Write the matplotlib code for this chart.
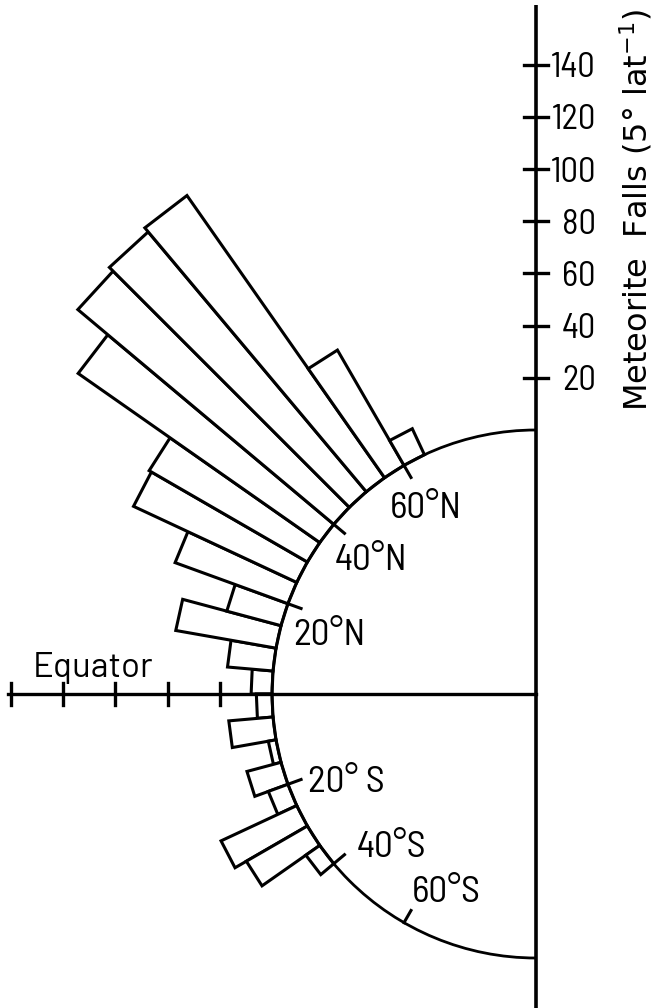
import numpy as np
import matplotlib
matplotlib.use("Agg")
import matplotlib.pyplot as plt
from matplotlib.patches import Polygon, Arc

# ---------------- data ----------------
lat_edges_north = [0, 5, 10, 15, 20, 25, 30, 35, 40, 45, 50, 55, 60]
falls_north = [8, 17.5, 39, 21.5, 46, 69, 70, 113, 128, 130, 132, 51, 11]
lat_edges_south = [0, 5, 10, 15, 20, 25, 30, 35]
falls_south = [6, 17, 3, 13.5, 8, 32, 27, 6.5]
scale_ticks = [20, 40, 60, 80, 100, 120, 140]
equator_ticks = [20, 40, 60, 80, 100]
lat_marks_north = [20, 40, 60]
lat_labels_north = ["20°N", "40°N", "60°N"]
lat_marks_south = [20, 40, 60]
lat_labels_south = ["20° S", "40°S", "60°S"]
axis_label = "Meteorite  Falls (5° lat$^{-1}$)"
equator_label = "Equator"

# ---------------- layout ----------------
W, H = 657, 1008
CX, CY = 536, 694          # centre of the semicircle (pixels, from top-left)
K = 2.61                   # pixels per meteorite fall
R = 264 / K                # radius of the globe in count units
BIN = 5

FONT = ["Barlow Semi Condensed", "DejaVu Sans"]
plt.rcParams["font.family"] = FONT
plt.rcParams["mathtext.fontset"] = "dejavusans"
plt.rcParams["mathtext.default"] = "regular"


def P(x, y):
    """pixel position -> data coordinates"""
    return (x - CX) / K, (CY - y) / K


fig = plt.figure(figsize=(W / 100, H / 100), dpi=100)
ax = fig.add_axes([0, 0, 1, 1])
ax.set_xlim(-CX / K, (W - CX) / K)
ax.set_ylim(-(H - CY) / K, CY / K)
ax.axis("off")

LW = 2.2


def polar(r, lat):
    t = np.deg2rad(180 - lat)
    return r * np.cos(t), r * np.sin(t)


def draw_bar(lat0, lat1, v):
    pts = [polar(R, lat0), polar(R + v, lat0), polar(R + v, lat1), polar(R, lat1)]
    ax.add_patch(Polygon(pts, closed=True, fill=True, facecolor="white",
                         edgecolor="black", lw=LW, joinstyle="miter", zorder=3))


for lo, v in zip(lat_edges_north, falls_north):
    draw_bar(lo, lo + BIN, v)
for lo, v in zip(lat_edges_south, falls_south):
    draw_bar(-lo, -(lo + BIN), v)

# globe outline
ax.add_patch(Arc((0, 0), 2 * R, 2 * R, theta1=90, theta2=270,
                 color="black", lw=2.0, zorder=4))

# vertical scale axis
y_top = P(0, 5)[1]
y_bot = ax.get_ylim()[0]
ax.plot([0, 0], [y_bot, y_top], color="black", lw=2.6, zorder=5,
        solid_capstyle="butt")
tick_half = 12 / K
for v in scale_ticks:
    ax.plot([-tick_half, tick_half], [R + v, R + v], color="black",
            lw=2.4, zorder=5)
    ax.text(P(596, 0)[0], R + v - 12.5 / K, str(v), ha="right",
            va="baseline", fontsize=25, color="black")

# equator axis
x_left = P(8, 0)[0]
ax.plot([x_left, 0], [0, 0], color="black", lw=2.4, zorder=5)
for v in equator_ticks:
    ax.plot([-(R + v), -(R + v)], [-11 / K, 11 / K], color="black",
            lw=2.4, zorder=5)

# latitude marks on the globe
for lat in lat_marks_north:
    a, b = polar(R, lat), polar(R - 14 / K, lat)
    ax.plot([a[0], b[0]], [a[1], b[1]], color="black", lw=2.2, zorder=5)
for lat in lat_marks_south:
    a, b = polar(R, -lat), polar(R - 14 / K, -lat)
    ax.plot([a[0], b[0]], [a[1], b[1]], color="black", lw=2.2, zorder=5)

label_pos_north = [(293, 645), (335, 570), (390, 518)]
label_pos_south = [(308, 792), (357, 857), (412, 902)]
for txt, (x, y) in zip(lat_labels_north, label_pos_north):
    ax.text(*P(x, y), txt, ha="left", va="baseline", fontsize=27)
for txt, (x, y) in zip(lat_labels_south, label_pos_south):
    ax.text(*P(x, y), txt, ha="left", va="baseline", fontsize=27)

ax.text(*P(33, 677), equator_label, ha="left", va="baseline", fontsize=25,
        family=["Barlow", "DejaVu Sans"])

ax.text(*P(648, 210), axis_label, rotation=90, rotation_mode="anchor",
        ha="center", va="baseline", fontsize=23, family=["DejaVu Sans"])

fig.savefig("out.png", dpi=100, facecolor="white")
